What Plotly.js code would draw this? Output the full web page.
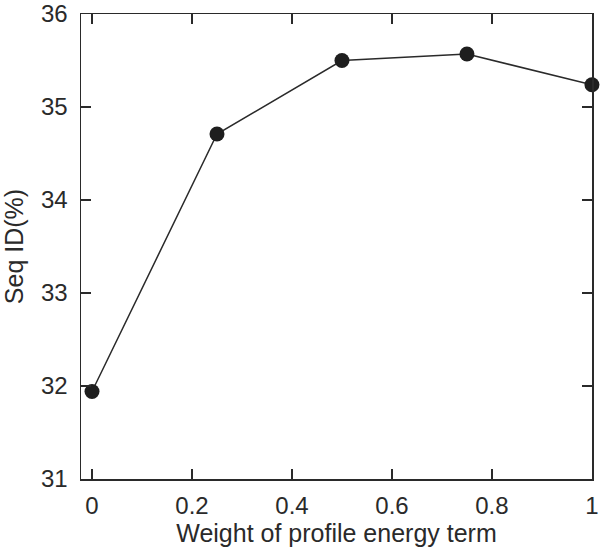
<!DOCTYPE html>
<html>
<head>
<meta charset="utf-8">
<script src="https://cdn.plot.ly/plotly-3.0.1.min.js"></script>
<style>html,body{margin:0;padding:0;background:#fff;}#chart{width:600px;height:552px;}</style>
</head>
<body>
<div id="chart"></div>
<script>
const weights = [0, 0.25, 0.5, 0.75, 1];
const seqId = [31.94, 34.71, 35.50, 35.57, 35.24];
const xTicks = [0, 0.2, 0.4, 0.6, 0.8, 1];
const xTickLabels = ['0', '0.2', '0.4', '0.6', '0.8', '1'];
const yTicks = [31, 32, 33, 34, 35, 36];
const yTickLabels = ['31', '32', '33', '34', '35', '36'];

const fontFam = 'Liberation Sans, Arial, Helvetica, sans-serif';
const ink = '#2a2a2a';

const trace = {
  x: weights, y: seqId, type: 'scatter', mode: 'lines+markers',
  line: {color: ink, width: 1.5},
  marker: {color: '#1e1e1e', size: 15},
  cliponaxis: false
};

const axisCommon = {
  showgrid: false, zeroline: false, showline: true, linecolor: ink, linewidth: 1.5,
  mirror: 'allticks', ticks: 'inside', ticklen: 10, tickwidth: 1.5, tickcolor: ink,
  tickfont: {family: fontFam, size: 24, color: ink},
  ticklabeloverflow: 'allow'
};

const layout = {
  width: 600, height: 552,
  margin: {l: 81, r: 8, t: 14, b: 73},
  paper_bgcolor: '#fff', plot_bgcolor: '#fff',
  showlegend: false,
  xaxis: Object.assign({}, axisCommon, {
    range: [-0.022, 1.0001], tickvals: xTicks, ticktext: xTickLabels,
    ticklabelstandoff: 5,
    title: {text: 'Weight of profile energy term', font: {family: fontFam, size: 25, color: ink}, standoff: 1}
  }),
  yaxis: Object.assign({}, axisCommon, {
    range: [30.999, 36.001], tickvals: yTicks, ticktext: yTickLabels,
    ticklabelstandoff: 7,
    title: {text: 'Seq ID(%)', font: {family: fontFam, size: 25, color: ink}, standoff: 12}
  })
};

Plotly.newPlot('chart', [trace], layout, {displayModeBar: false, staticPlot: true});
</script>
</body>
</html>
